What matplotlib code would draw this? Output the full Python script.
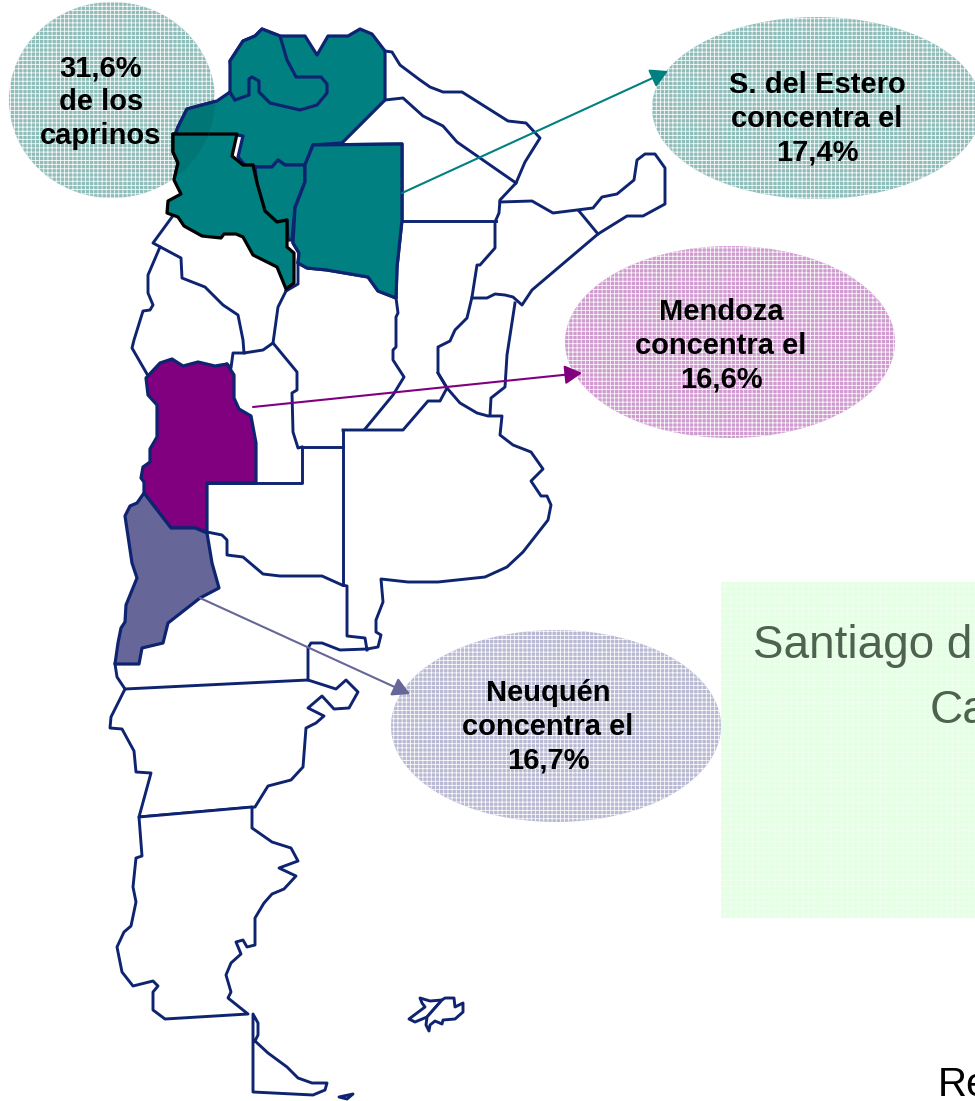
import matplotlib
matplotlib.use("Agg")
import matplotlib.pyplot as plt
from matplotlib.patches import Ellipse, Polygon, Rectangle, FancyArrowPatch

plt.rcParams['font.family'] = ['Liberation Sans', 'DejaVu Sans']

NAVY = '#0e2470'
TEAL = '#008080'
PURPLE = '#800080'
SLATE = '#666699'

# province outlines (pixel coordinates)
jujuy = [(262,29),(280,36),(287,60),(296,77),(321,77),(327,84),(327,93),(317,105),(300,110),(270,103),(259,92),(259,81),(252,77),(249,79),(249,95),(235,100),(230,92),(230,61),(243,41),(255,36)]
salta = [(262,29),(280,36),(305,36),(317,55),(328,36),(348,36),(360,29),(372,34),(385,51),(385,100),(342,143),(313,145),(305,165),(285,165),(278,160),(272,167),(255,167),(253,165),(245,165),(238,157),(243,136),(237,135),(175,135),(178,127),(187,109),(217,101),(230,92),(235,100),(230,61),(243,41),(255,36)]
catamarca = [(173,134),(237,134),(232,156),(243,165),(253,165),(257,183),(265,211),(277,222),(287,220),(287,247),(294,253),(294,283),(286,289),(277,267),(253,255),(243,237),(236,234),(224,234),(221,238),(202,236),(184,226),(178,217),(167,213),(168,201),(181,194),(174,180),(178,163),(173,152)]
tucuman = [(255,167),(272,167),(278,160),(285,165),(305,165),(305,182),(295,207),(292,240),(288,240),(287,220),(277,222),(265,211),(257,183)]
santiago = [(313,145),(402,144),(402,220),(397,267),(396,298),(378,291),(368,277),(327,270),(307,268),(298,263),(299,253),(293,243),(295,208),(305,182),(305,165)]
mendoza = [(146,378),(160,363),(172,359),(183,366),(198,362),(215,366),(227,364),(234,375),(234,398),(239,409),(251,416),(256,443),(256,483),(207,483),(207,532),(195,528),(171,528),(144,493),(144,482),(141,478),(143,467),(150,462),(150,449),(157,437),(157,405),(148,395)]
neuquen = [(144,493),(171,528),(195,528),(207,533),(212,563),(219,588),(200,598),(168,623),(163,643),(142,648),(139,664),(115,664),(118,643),(121,628),(125,622),(126,605),(137,578),(132,563),(125,516),(130,506),(137,503)]
chubut = [(125,689),(308,680),(336,689),(346,680),(358,692),(349,708),(334,709),(322,696),(308,708),(324,716),(316,723),(306,728),(303,767),(291,780),(268,786),(255,807),(139,817),(151,773),(136,772),(134,751),(122,729),(110,728),(111,717)]
santa_cruz = [(139,817),(142,856),(136,858),(133,887),(136,902),(131,926),(124,932),(117,947),(122,972),(133,986),(153,981),(158,986),(153,992),(153,1010),(165,1019),(248,1014),(228,998),(231,992),(226,975),(231,963),(241,954),(236,942),(243,940),(247,947),(255,945),(255,918),(264,903),(272,894),(284,889),(296,876),(279,868),(298,861),(291,848),(272,842),(252,828),(252,807)]
tierra_fuego = [(253,1014),(258,1023),(258,1035),(255,1041),(268,1053),(287,1067),(298,1078),(312,1083),(327,1083),(325,1090),(313,1095),(253,1092)]
isla = [(339,1097),(353,1094),(347,1099)]
malvina_oeste = [(420,998),(430,1001),(442,1000),(427,1017),(415,1022),(409,1019),(425,1007),(422,1003)]
malvina_este = [(442,1000),(445,998),(454,998),(455,1007),(463,1003),(463,1012),(455,1019),(443,1020),(442,1024),(435,1021),(430,1025),(429,1031),(426,1025),(427,1017)]

# open boundary lines of the unfilled provinces
bordes = [
    [(385,51),(392,52),(400,65),(420,80),(430,87),(443,92),(462,92),(508,121),(526,123),(540,138),(525,162),(516,183),(500,200),(499,213),(495,222),(495,248),(480,265),(477,265),(472,297),(467,318),(455,330),(450,341),(438,347),(438,373),(447,388),(440,401),(428,401),(403,430),(343,430)],
    [(385,100),(403,98),(423,116),(443,126),(457,142),(480,158),(516,183)],
    [(402,221),(496,221)],
    [(396,298),(398,313),(396,317),(396,347),(393,350),(393,360),(404,377),(393,395),(365,429)],
    [(500,202),(532,201),(553,213),(593,208),(602,197),(617,194),(634,180),(637,160),(645,154),(655,154),(665,168),(665,204),(643,216),(627,216),(598,234),(532,290),(522,305),(513,297),(505,295),(495,294),(487,298),(472,298)],
    [(579,211),(598,234)],
    [(515,303),(507,355),(505,387),(491,398),(490,415)],
    [(438,373),(447,388),(460,403),(477,413),(488,416),(502,416),(500,435),(513,445),(531,452),(543,469),(531,481),(541,496),(547,496),(551,505),(548,520),(523,552),(507,567),(485,577),(438,582),(408,582),(381,579),(383,602),(376,620),(376,632),(381,635),(378,647),(367,649),(340,650),(322,643),(311,643),(308,648),(308,680)],
    [(343,430),(343,585)],
    [(207,483),(302,483),(302,447),(343,447)],
    [(207,532),(222,535),(227,540),(227,555),(243,557),(263,574),(280,576),(322,576),(342,585),(347,586),(347,636),(365,638),(367,650)],
    [(115,664),(117,677),(125,689)],
    [(286,291),(278,307),(273,343),(297,372),(297,390),(292,393),(293,432),(298,448),(302,447)],
    [(298,263),(298,284),(286,291)],
    [(172,217),(153,243),(181,258),(182,278),(205,287),(223,305),(238,315),(243,340),(244,353),(263,350),(273,343)],
    [(160,247),(148,275),(148,293),(153,305),(150,310),(143,311),(134,340),(132,348),(147,374)],
    [(227,364),(231,368),(233,353),(244,353)],
]

# callouts: text, text position, oval centre, radii, colour
ovalos = [
    ('31,6%\nde los\ncaprinos', 101, 102, 112, 100, 103, 98, TEAL),
    ('S. del Estero\nconcentra el\n17,4%', 817, 119, 817, 108, 165, 91, TEAL),
    ('Mendoza\nconcentra el\n16,6%', 721, 346, 730, 342, 165, 96, PURPLE),
    ('Neuquén\nconcentra el\n16,7%', 548, 727, 556, 726, 165, 96, SLATE),
]
fondos = {TEAL: '#8fbdba', PURPLE: '#d09cd0', SLATE: '#b9b9d3'}
flechas = [
    ((402,193),(668,71),TEAL),
    ((253,407),(582,373),PURPLE),
    ((200,598),(410,694),SLATE),
]

fig = plt.figure(figsize=(9.75, 11.01), dpi=100)
ax = fig.add_axes([0, 0, 1, 1])
ax.set_xlim(0, 975)
ax.set_ylim(1101, 0)
ax.axis('off')

plt.rcParams['hatch.linewidth'] = 0.55

# green box
ax.add_patch(Rectangle((721, 582), 254, 336, facecolor='#e4ffe4', edgecolor='#f2fff2', hatch='+++', lw=0, zorder=1))
ax.text(753, 658, 'Santiago d', fontsize=33, color='#4f614f', ha='left', va='baseline', zorder=2)
ax.text(930, 723, 'Ca', fontsize=33, color='#4f614f', ha='left', va='baseline', zorder=2)
ax.text(938, 1096, 'Re', fontsize=29, color='black', ha='left', va='baseline', zorder=2)

# ovals below the map
for _, _, _, cx, cy, rx, ry, c in ovalos:
    ax.add_patch(Ellipse((cx, cy), 2*rx, 2*ry, facecolor=fondos[c], edgecolor='white', hatch='++++', lw=0, zorder=2))

def poly(pts, fc, ec=NAVY, lw=2.3, z=4, **kw):
    patch = Polygon(pts, closed=True, facecolor=fc, edgecolor=ec, lw=lw, joinstyle='round', zorder=z, **kw)
    ax.add_patch(patch)
    return patch

for p in (chubut, santa_cruz, tierra_fuego, isla, malvina_oeste, malvina_este):
    poly(p, 'white', lw=2.1)
for b in bordes:
    ax.plot([q[0] for q in b], [q[1] for q in b], color=NAVY, lw=2.1, solid_joinstyle='round', zorder=4)
for p in (salta, jujuy, tucuman, santiago):
    poly(p, TEAL)
poly(mendoza, PURPLE)
poly(neuquen, SLATE)
poly(catamarca, TEAL, ec='black', z=5)
poly(santiago, TEAL, z=5)

# left oval shows through the map: slightly darker teal only where they overlap
cx, cy, rx, ry = ovalos[0][3:7]
velo = Ellipse((cx, cy), 2*rx, 2*ry, transform=ax.transData, facecolor='none', lw=0)
ax.add_patch(velo)
for p, ec in ((salta, NAVY), (catamarca, 'black')):
    parche = poly(p, '#007676', ec=ec, z=6)
    parche.set_clip_path(velo)

for a, b, c in flechas:
    ax.add_patch(FancyArrowPatch(a, b, arrowstyle='-|>,head_length=6.5,head_width=3.6', color=c, lw=1.5,
                                 shrinkA=0, shrinkB=0, mutation_scale=1.6, zorder=7))

for txt, tx, ty, *_ in ovalos:
    ax.text(tx, ty, txt, fontsize=21, fontweight='bold', color='black',
            ha='center', va='center', linespacing=1.27, zorder=8)

fig.savefig('out.png', dpi=100)
